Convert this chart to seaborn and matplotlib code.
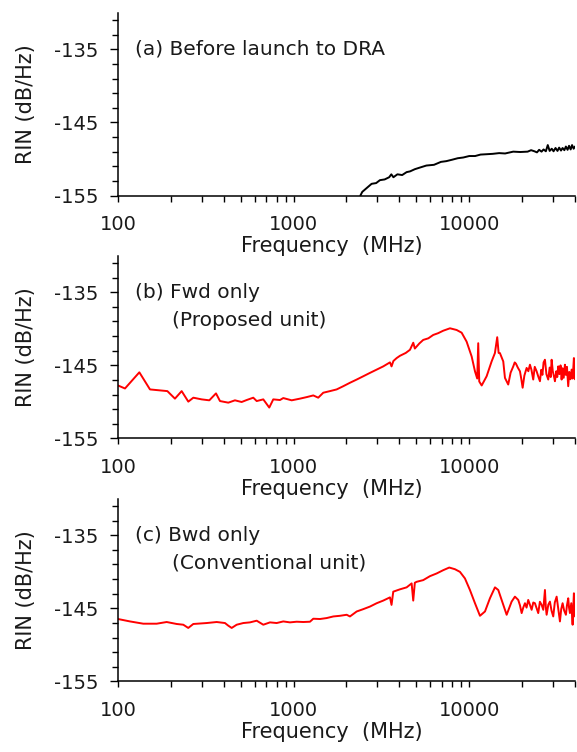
import numpy as np
import pandas as pd
import matplotlib
matplotlib.use("Agg")
import matplotlib.pyplot as plt
import seaborn as sns
from matplotlib.ticker import FixedLocator, NullFormatter

# ---------------- data ----------------
freq_a = [2400, 2460, 2600, 2780, 2950, 3100, 3300, 3500, 3600, 3700, 3900, 4150, 4400, 4600,
          4900, 5200, 5700, 6300, 6900, 7400, 8000, 8600, 9250, 10000, 10800, 11600, 12600,
          13600, 14800, 16000, 17800, 19500, 21500, 22500, 23500, 24300, 25000, 25800, 26500,
          27300, 28000, 28700, 29500, 30200, 31000, 31800, 32500, 33300, 34000, 34800, 35500,
          36300, 37000, 37800, 38500, 39300, 40000]
rin_a = [-155.0, -154.5, -154.0, -153.4, -153.3, -152.9, -152.8, -152.5, -152.1, -152.5, -152.1,
         -152.2, -151.8, -151.7, -151.4, -151.2, -150.9, -150.8, -150.4, -150.3, -150.1, -149.9,
         -149.8, -149.6, -149.6, -149.4, -149.35, -149.3, -149.2, -149.25, -149.0, -149.05,
         -149.0, -148.8, -148.95, -149.1, -148.75, -149.0, -148.7, -148.95, -148.1, -148.9,
         -148.6, -148.95, -148.5, -148.9, -148.45, -148.85, -148.5, -148.8, -148.3, -148.75,
         -148.2, -148.7, -148.1, -148.6, -148.3]

freq_b = [100, 109.6, 132.3, 152.1, 191, 211, 230.4, 251.4, 268.5, 299.4, 331.1, 361.4, 380.8,
          424.6, 463.4, 505.8, 540.3, 589.2, 616.3, 671.9, 726.6, 765.8, 836.1, 873.1, 974.9,
          1087, 1187, 1294, 1381, 1475, 1611, 1758, 1917, 2093, 2286, 2492, 2720, 2971, 3238,
          3537, 3610, 3700, 3862, 4032, 4350, 4597, 4800, 4900, 5200, 5470, 5850, 6237, 6650,
          7110, 7770, 8475, 9050, 9660, 10320, 10780, 11100, 11250, 11400, 11770, 12560, 13410,
          14000, 14430, 14700, 14950, 15620, 15970, 16670, 17200, 17810, 18150, 18450, 18900,
          19440, 19800, 20140, 20600, 21220, 21700, 22160, 22600, 23140, 23600, 24190, 24700,
          25270, 25700, 26100, 26500, 26980, 27500, 28170, 28700, 29100, 29450, 29900, 30300,
          30760, 31300, 31700, 32120, 32600, 33100, 33570, 34000, 34500, 35060, 35500, 36000,
          36610, 37100, 37700, 38280, 38800, 39440, 39700, 40000]
rin_b = [-147.75, -148.16, -145.95, -148.29, -148.52, -149.55, -148.52, -149.96, -149.42,
         -149.65, -149.78, -148.83, -149.88, -150.1, -149.78, -150.01, -149.74, -149.42,
         -149.88, -149.65, -150.77, -149.65, -149.74, -149.47, -149.78, -149.55, -149.34,
         -149.11, -149.42, -148.74, -148.52, -148.29, -147.85, -147.38, -146.94, -146.49,
         -146.03, -145.58, -145.14, -144.59, -145.14, -144.4, -144.0, -143.69, -143.3, -142.87,
         -141.9, -142.7, -142.0, -141.52, -141.3, -140.84, -140.6, -140.26, -139.93, -140.16,
         -140.53, -141.75, -143.78, -145.81, -146.8, -141.97, -147.2, -147.75, -146.49,
         -144.46, -143.32, -141.15, -143.3, -143.32, -144.46, -146.71, -147.62, -146.0,
         -145.14, -144.6, -144.77, -145.3, -145.81, -146.9, -148.06, -146.4, -145.35, -145.8,
         -144.91, -145.6, -146.94, -145.2, -145.81, -146.5, -147.17, -145.6, -146.3, -144.6,
         -144.23, -146.2, -146.94, -145.3, -146.6, -144.23, -145.8, -146.4, -147.17, -145.8,
         -146.6, -145.14, -146.2, -145.0, -146.94, -145.4, -146.7, -144.91, -146.3, -145.2,
         -147.85, -145.9, -146.9, -145.58, -146.8, -144.0, -146.2, -146.9]

freq_c = [100, 117, 139.3, 166.1, 189.3, 215.9, 235.4, 251.2, 268.4, 319.9, 364.7, 406.6, 424.6,
          443.9, 474.1, 517, 564.3, 616.1, 671.9, 733.6, 800.9, 873.1, 953.2, 1041, 1135, 1239,
          1294, 1413, 1542, 1682, 1836, 2005, 2093, 2286, 2492, 2720, 2971, 3238, 3537, 3610,
          3693, 4032, 4401, 4699, 4798, 4900, 5018, 5470, 5974, 6522, 7112, 7695, 8291, 8851,
          9452, 10090, 10780, 11510, 12290, 13120, 14010, 14630, 15290, 16330, 17430, 18200,
          19010, 19450, 19880, 20300, 20760, 21200, 21670, 22150, 22660, 23150, 23660, 24200,
          24710, 25250, 25840, 26400, 26980, 27300, 27580, 28200, 28800, 29400, 30080, 30700,
          31450, 32100, 32840, 33400, 34010, 34700, 35510, 36000, 36610, 37000, 37440, 38100,
          38780, 39100, 39440, 39750, 40000]
rin_c = [-146.46, -146.79, -147.1, -147.1, -146.87, -147.14, -147.24, -147.68, -147.14, -147.01,
         -146.87, -147.01, -147.37, -147.68, -147.24, -147.01, -146.92, -146.69, -147.24,
         -146.92, -147.01, -146.79, -146.92, -146.83, -146.87, -146.83, -146.42, -146.46,
         -146.33, -146.11, -146.02, -145.88, -146.11, -145.43, -145.11, -144.76, -144.3,
         -143.94, -143.5, -144.53, -142.72, -142.4, -142.13, -141.59, -143.94, -141.5, -141.37,
         -141.14, -140.6, -140.23, -139.78, -139.42, -139.65, -140.01, -140.91, -142.49,
         -144.3, -146.02, -145.43, -143.62, -142.13, -142.49, -143.85, -145.88, -144.08,
         -143.4, -143.85, -144.6, -145.65, -144.9, -144.3, -144.9, -143.85, -144.5, -145.2,
         -144.2, -144.3, -145.0, -145.65, -144.1, -144.53, -145.2, -142.49, -144.9, -145.88,
         -144.5, -144.08, -145.3, -146.11, -144.2, -143.4, -145.0, -146.79, -145.1, -144.3,
         -145.3, -145.88, -144.6, -143.62, -144.9, -145.65, -144.3, -147.24, -145.0, -142.94,
         -145.2, -146.11]

x_major = [100, 1000, 10000]
x_major_labels = ["100", "1000", "10000"]
x_minor = [200, 300, 400, 500, 600, 700, 800, 900, 2000, 3000, 4000, 5000, 6000, 7000, 8000,
           9000, 20000, 30000, 40000]
y_major = [-155, -145, -135]
y_major_labels = ["-155", "-145", "-135"]
y_minor = [-153, -151, -149, -147, -143, -141, -139, -137, -133, -131]

panel_titles = ["(a) Before launch to DRA", "(b) Fwd only", "(c) Bwd only"]
panel_sub = [None, "(Proposed unit)", "(Conventional unit)"]
x_label = "Frequency  (MHz)"
y_label = "RIN (dB/Hz)"

# ---------------- style ----------------
sns.set_theme(style="ticks")
plt.rcParams["font.family"] = ["DejaVu Sans"]
plt.rcParams["axes.unicode_minus"] = False
TXT = "#1a1a1a"

fig = plt.figure(figsize=(5.77, 7.52), dpi=100)
left, width, height = 0.2045, 0.7920, 0.2431
bottoms = [0.7400, 0.4169, 0.0938]

series = [(freq_a, rin_a, "black"), (freq_b, rin_b, "#ff0000"), (freq_c, rin_c, "#ff0000")]

for i, (fx, ry, col) in enumerate(series):
    ax = fig.add_axes([left, bottoms[i], width, height])
    df = pd.DataFrame({"f": fx, "rin": ry})
    sns.lineplot(data=df, x="f", y="rin", ax=ax, color=col, linewidth=1.4,
                 sort=False, estimator=None)
    ax.set_xscale("log")
    ax.set_xlim(100, 40000)
    ax.set_ylim(-155, -130)
    ax.set_xticks(x_major)
    ax.set_xticklabels(x_major_labels)
    ax.xaxis.set_minor_locator(FixedLocator(x_minor))
    ax.xaxis.set_minor_formatter(NullFormatter())
    ax.set_yticks(y_major)
    ax.set_yticklabels(y_major_labels)
    ax.yaxis.set_minor_locator(FixedLocator(y_minor))
    for s in ["top", "right"]:
        ax.spines[s].set_visible(False)
    for s in ["left", "bottom"]:
        ax.spines[s].set_color("black")
        ax.spines[s].set_linewidth(1.1)
    ax.tick_params(axis="x", which="both", direction="out", length=4.3, width=1.0,
                   color="black", pad=10, labelsize=14, labelcolor=TXT)
    ax.tick_params(axis="y", which="major", direction="out", length=5.8, width=1.0,
                   color="black", pad=8.4, labelsize=14, labelcolor=TXT)
    ax.tick_params(axis="y", which="minor", direction="out", length=4.0, width=1.0,
                   color="black")
    ax.set_xlabel(x_label, fontsize=15, color=TXT)
    ax.xaxis.set_label_coords(0.467, -0.22)
    ax.set_ylabel(y_label, fontsize=15, color=TXT)
    ax.yaxis.set_label_coords(-0.179, 0.5)
    ax.grid(False)
    ax.text(125, -135, panel_titles[i], fontsize=14.5, color=TXT, ha="left", va="center")
    if panel_sub[i]:
        ax.text(202, -138.8, panel_sub[i], fontsize=14.5, color=TXT, ha="left", va="center")

fig.savefig("out.png", dpi=100, facecolor="white")
